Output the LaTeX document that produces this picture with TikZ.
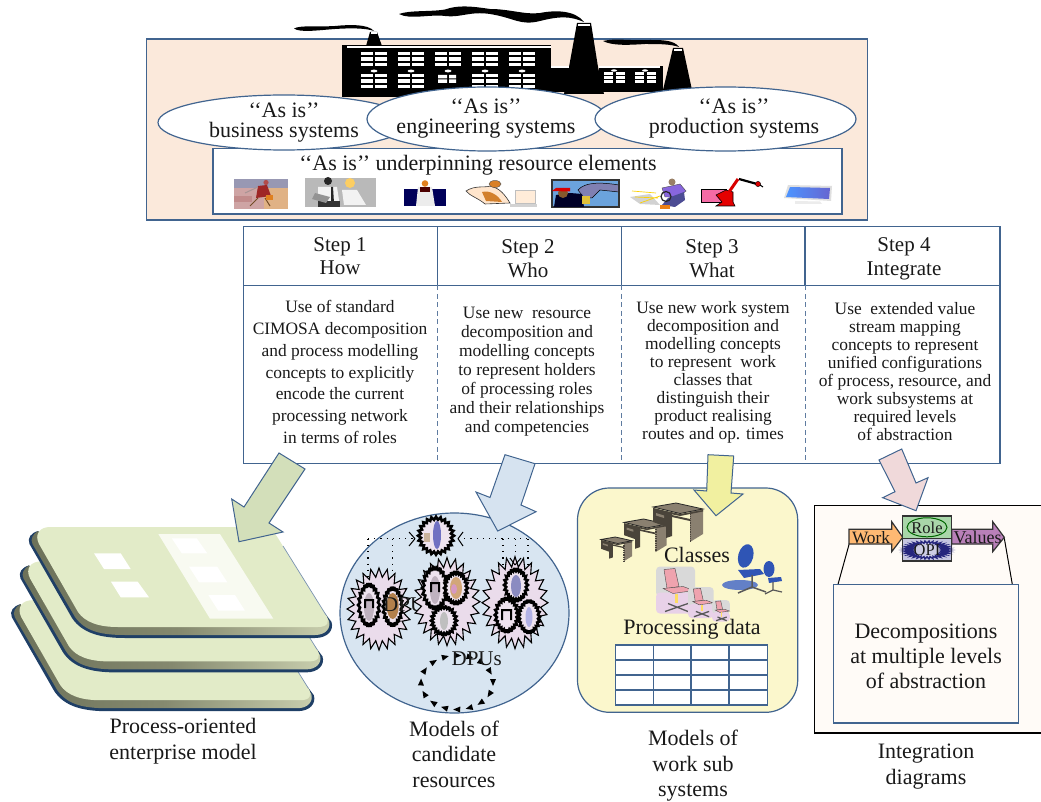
\documentclass[tikz,border=0pt]{standalone}
\usepackage{fontspec}
\setmainfont{Liberation Serif}
\usetikzlibrary{decorations.markings}
\definecolor{edgeblue}{HTML}{41648F}
\definecolor{peach}{HTML}{FBE9DB}
\definecolor{platetop}{HTML}{E2EBC8}
\definecolor{navyedge}{HTML}{1F3F66}
\definecolor{pinkburst}{HTML}{EADCEB}
\definecolor{bandmid}{HTML}{85896F}
\definecolor{bandleft}{HTML}{6C7159}
\definecolor{bandright}{HTML}{C9CFAE}
\definecolor{circblue}{HTML}{D8E5F1}
\definecolor{arrgreen}{HTML}{D3DFBA}
\definecolor{arrblue}{HTML}{D6E3F0}
\definecolor{arryellow}{HTML}{F1F0A0}
\definecolor{arrpink}{HTML}{F0D9DA}
\definecolor{boxyellow}{HTML}{FBF7CC}
\definecolor{boxcream}{HTML}{FFFBF7}
\definecolor{deskdark}{HTML}{4A443A}
\definecolor{deskmid}{HTML}{8A8070}
\definecolor{chairblue}{HTML}{2F55B5}
\definecolor{chairpink}{HTML}{EFA3AE}
\newcommand{\fs}[2]{\fontsize{#1}{#2}\selectfont}
\newcommand{\burst}[7][]{%
  \pgfmathtruncatemacro{\bsamp}{2*#6+1}\pgfmathtruncatemacro{\bdom}{2*#6}%
  \draw[#1] plot[samples=\bsamp,domain=0:\bdom] ({#2+#4*(#7+(1-#7)*(1+cos(180*\x))/2)*cos(180*\x/#6)},{#3+#5*(#7+(1-#7)*(1+cos(180*\x))/2)*sin(180*\x/#6)}) -- cycle;}
\newcommand{\plate}[2]{%
 \begin{scope}[shift={(#1,#2)}]
  \fill[navyedge] (38,531) .. controls (31,533) and (27,538) .. (29.5,544) -- (72,618) .. controls (82,633) and (100,638) .. (125,638) -- (315,638) .. controls (328,638) and (334,630) .. (331.5,622) -- (324,612) -- (60,560) -- cycle;
  \shade[left color=bandleft,right color=bandright,middle color=bandmid] (38,531) .. controls (33,534) and (30,539) .. (32.5,544) -- (75,617) .. controls (85,631) and (100,635) .. (125,635) -- (315,635) .. controls (326,635) and (331,628) .. (329,621) -- (324,612) -- (60,560) -- cycle;
  \fill[platetop] (50,527) -- (271,527) -- (326,615) .. controls (330,622) and (328,627) .. (318,627) -- (118,627) .. controls (98,627) and (85,622) .. (78,612) -- (39,544) .. controls (34,534) and (40,527) .. (50,527) -- cycle;
  \draw[edgeblue!70,line width=.7pt] (283,546) -- (326,615);
 \end{scope}}
\newcommand{\deskicon}[3]{%
 \begin{scope}[shift={(#1,#2)},scale=#3]
  \fill[deskdark] (0,5) -- (14,9) -- (14,24) -- (0,19) -- cycle;
  \fill[deskmid] (3,10) -- (11,12.5) -- (11,15) -- (3,12.5) -- cycle;
  \fill[deskdark] (13,9) -- (19,9) -- (19,33) -- (13,35) -- cycle;
  \fill[deskmid] (37,9) -- (50,6) -- (50,31) -- (37,39) -- cycle;
  \draw[deskdark,line width=1.6pt,dash pattern=on .9pt off .9pt] (37.5,9.5) -- (37.5,39);
  \fill[deskdark] (19,12) -- (37,16) -- (37,18) -- (19,14) -- cycle;
  \draw[black!85,line width=.8pt,fill=deskmid] (0,4) -- (23,0) -- (50,6) -- (27,10.5) -- cycle;
  \fill[deskdark] (0,5) -- (27,11) -- (50,7) -- (50,8.5) -- (27,13) -- (0,7.5) -- cycle;
 \end{scope}}
\newcommand{\pinkchair}[3]{%
 \begin{scope}[shift={(#1,#2)},scale=#3]
  \fill[gray!30,rounded corners=4pt] (0,0) rectangle (39,30);
  \fill[violet!18,rounded corners=4pt] (0,26) rectangle (39,47);
  \fill[chairpink,draw=gray!60!black,line width=.4pt] (8,3) -- (19,2) -- (23,20) -- (11,22) -- cycle;
  \fill[chairpink,draw=gray!60!black,line width=.4pt] (7,22) -- (27,20) -- (38,24) -- (17,27) -- cycle;
  \fill[yellow!60!orange!60] (19,27) rectangle (22,36);
  \draw[gray!70!black,line width=1.3pt] (9,45) -- (32,37) (12,37) -- (32,45);
 \end{scope}}
\tikzset{
 lbl/.style={inner sep=0pt,align=center,text=black!90},
 frm/.style={draw=edgeblue,line width=1.2pt},
 bigarrow/.style={draw=edgeblue,line width=1pt},
 pburst/.style={draw=black,line width=1.1pt,fill=pinkburst,line join=miter},
 sburst/.style={draw=black,line width=2.6pt,fill=pinkburst!80!white,line join=miter,miter limit=2},
 hdr/.style={lbl,font=\fs{21}{24}},
 body/.style={lbl,font=\fs{17.4}{19}},
 captxt/.style={lbl,font=\fs{22}{25.5}},
 elltxt/.style={lbl,font=\fs{22}{19.5}},
}
\begin{document}
\begin{tikzpicture}[x=1pt,y=-1pt]
\useasboundingbox (0,0) rectangle (1041,802);
% top frame
\draw[frm,fill=peach] (146.5,39) rectangle (867.5,220);
% smoke
\fill[black] (294,28.5) .. controls (300,25) and (320,27) .. (335,26) .. controls (350,24.5) and (368,24) .. (374,31) .. controls (366,28) and (350,28) .. (335,29) .. controls (320,30) and (300,33) .. (294,28.5) -- cycle;
\fill[black] (399,14) .. controls (410,10) and (430,12) .. (445,9.5) .. controls (458,5) and (470,6) .. (490,9) .. controls (510,9) and (525,15) .. (540,13) .. controls (555,10) and (575,10) .. (584,22) .. controls (570,16) and (560,16) .. (540,21) .. controls (520,26) and (515,18) .. (490,14) .. controls (470,11) and (460,18) .. (445,16) .. controls (430,14) and (410,20) .. (399,14) -- cycle;
\fill[black] (603,41) .. controls (615,38) and (630,41) .. (650,40) .. controls (662,40) and (674,40) .. (679,47) .. controls (670,44) and (660,44) .. (645,44) .. controls (630,45) and (612,46) .. (603,41) -- cycle;
% factory
\fill[black] (342,45) rectangle (551,97);
\fill[black] (551,66) rectangle (570,92);
\fill[black] (599,66) rectangle (663,92);
\fill[black] (370,32) -- (377,32) -- (382,46) -- (366,46) -- cycle;
\fill[white] (370.5,32.5) rectangle (376.5,34);
\fill[black] (577,23) -- (591,23) -- (598,67) -- (604,94) -- (564,94) -- (569,67) -- cycle;
\fill[white] (578,24) rectangle (590,26.5);
\fill[black] (673,48) -- (683,48) -- (692,90) -- (663,90) -- cycle;
\fill[white] (674,49) rectangle (682,51);
\fill[white] (347,46) rectangle (551,47.7);
\fill[white] (551,66.5) rectangle (569,68);
\fill[white] (599,66.5) rectangle (660,68);
\foreach \gx in {361,398,435,472,509}{
  \foreach \cx in {0,14}{
    \foreach \ry in {52,57.5,63}{\fill[white] (\gx+\cx,\ry) rectangle +(12,3.2);}
    \ifnum\gx=435\relax\else\foreach \ry in {74,79.5,85}{\fill[white] (\gx+\cx,\ry) rectangle +(12,3.4);}\fi
  }
  \fill[white] (\gx+13,71) ellipse (3.5 and 1.4);
}
\fill[white] (438,75) rectangle +(9,3.5) (449,75) rectangle +(7,3.5) (438,79.5) rectangle +(9,3.5) (449,79.5) rectangle +(7,3.5);
\foreach \gx in {604,635}{
  \foreach \cx in {0,12}{\foreach \ry in {72,76.2,80.5}{\fill[white] (\gx+\cx,\ry) rectangle +(8.5,3);}}
  \fill[white] (\gx+10,70.5) ellipse (3 and 1.2);
}
% inner box
\draw[frm,fill=white] (213,148.5) rectangle (842,214);
% ellipses
\draw[frm,fill=white] (284,122.5) ellipse (126 and 27.5);
\draw[frm,fill=white] (487,119) ellipse (120 and 32);
\draw[frm,fill=white] (725.5,119) ellipse (130.5 and 32);
\node[elltxt] (bus) at (284,122.5) {‘‘As is’’\\business systems};
\node[elltxt] (eng) at (486,118.5) {‘‘As is’’\\engineering systems};
\node[elltxt] (pro) at (734,118.5) {‘‘As is’’\\production systems};
\node[captxt] (und) at (478,165) {‘‘As is’’ underpinning resource elements};
% icon 1
\fill[blue!15!gray!70] (234,179) rectangle (288,188);
\fill[red!30!gray!55] (234,188) rectangle (264,209);
\fill[orange!60!gray!60] (264,188) rectangle (288,209);
\fill[red!30!gray!70] (234,196) rectangle (252,202);
\fill[red!55!black!85] (258,186) -- (267,185) -- (271,196) -- (256,198) -- cycle;
\fill[red!40!gray] (266,182.5) circle (2.6);
\draw[brown!60!black,line width=1pt] (258,198) -- (250,206) (265,198) -- (270,206);
\draw[gray!70!pink,line width=1pt] (258,187) -- (245,193);
\fill[orange!50!brown] (266,195) rectangle (273,200);
% icon 2
\fill[gray!55] (305,178) rectangle (376,207);
\fill[black!85] (328,181) circle (4);
\fill[white!90!gray] (318,187) -- (337,187) -- (340,207) -- (318,207) -- cycle;
\fill[black!85] (331,187) -- (333,187) -- (334,203) -- (331,203) -- cycle;
\fill[black!80] (318,201) rectangle (340,207);
\fill[yellow!40!orange!60] (350,183) circle (5);
\fill[white!90!gray] (342,190) -- (357,190) -- (366,205) -- (344,205) -- cycle;
\fill[gray!85] (315,193) -- (330,197) -- (326,203) -- (312,199) -- cycle;
% icon 3
\fill[blue!50!black!70!black] (404,189) rectangle (446,206);
\fill[white!85!gray] (418,187) -- (432,187) -- (435,206) -- (416,206) -- cycle;
\fill[orange!55!brown] (425,183.5) circle (3.3);
\fill[black!70!red] (420,187) rectangle (430,192);
% icon 4
\fill[orange!20!white,draw=black!80,line width=.6pt] (466,191) .. controls (475,185) and (485,188) .. (490,186) .. controls (500,188) and (505,195) .. (510,203) -- (485,204) .. controls (478,198) and (470,196) .. (466,191) -- cycle;
\fill[brown!70!orange] (482,192) .. controls (490,190) and (498,195) .. (502,202) -- (486,201) -- cycle;
\fill[brown!60!orange,draw=black!70,line width=.4pt] (495,184) ellipse (6 and 3.5);
\fill[orange!15!white,draw=gray!50,line width=.4pt] (515,190) rectangle (535,203);
\fill[gray!35] (510,204) rectangle (537,207);
% icon 5
\fill[cyan!60!blue!60] (552,180) rectangle (619,207);
\fill[blue!25!gray!80,draw=black,line width=.5pt] (578,190) .. controls (585,182) and (600,182) .. (619,185) -- (619,192) -- (600,190) -- (592,198) -- (584,198) -- cycle;
\draw[black!80,line width=1.4pt] (552,180) rectangle (619,207);
\fill[black!85!blue] (554,207) -- (556,195) -- (570,193) -- (582,194) -- (584,207) -- cycle;
\fill[brown!70!black] (563,193) circle (5);
\fill[red!85!black] (552,191) -- (556,188) -- (570,188) -- (570,191.5) -- cycle;
\fill[yellow!50!brown] (582,196) rectangle (590,204);
% icon 6
\fill[gray!35] (630,197) -- (650,194) -- (660,205) -- (640,204) -- cycle;
\draw[yellow!70!orange,line width=.7pt] (632,191) -- (656,193) (640,203) -- (660,196) (635,197) -- (658,198);
\fill[violet!45!blue!60,draw=black!70,line width=.4pt] (662,188) -- (680,184) -- (686,191) -- (678,197) -- (665,197) -- cycle;
\fill[gray!60!brown] (672,182) circle (3.5);
\fill[blue!40!black!70] (668,198) -- (684,192) -- (685,200) -- (675,207) -- (662,205) -- cycle;
\draw[black!85,line width=1.2pt] (666,196.5) circle (5);
\fill[orange!70!brown] (660,205) rectangle (670,209);
% icon 7
\draw[black,line width=1pt,fill=magenta!45!pink] (701,189.5) rectangle (726,203);
\fill[red!90!black,draw=black,line width=.6pt] (716,195) -- (726,190) -- (733,192) -- (733,202) -- (735,206) -- (716,206) -- (722,202) -- cycle;
\draw[red!85!black,line width=3pt] (729,192) -- (738,179);
\draw[black,line width=2.2pt] (739,179) -- (757,184);
\fill[red!85!black,draw=black,line width=.4pt] (758,184) circle (2.6);
\draw[black,line width=1pt] (760,185) -- (763,187);
% icon 8
\fill[gray!25] (788,185) -- (832,186) -- (831,201) -- (784,198) -- cycle;
\shade[left color=blue!60!cyan!70!white,right color=blue!70!black!60] (790,187) -- (830,188) -- (829,199) -- (786,197) -- cycle;
\fill[gray!15] (795,201) -- (820,201.5) -- (822,204) -- (795,204) -- cycle;
% table
\draw[frm] (243.5,226.5) rectangle (1000,463.7);
\draw[frm] (243.5,285.3) -- (1000,285.3);
\foreach \tx in {437.3,621.7,805}{
  \draw[frm] (\tx,226.5) -- (\tx,285.3);
  \draw[edgeblue!85!white,line width=1pt,dash pattern=on 5pt off 3.5pt] (\tx,285.3) -- (\tx,463.7);
}
\node[lbl,font=\fs{21}{23}] (s1) at (340,256.5) {Step 1\\How};
\node[hdr] (s2) at (528,259) {Step 2\\Who};
\node[hdr] (s3) at (712,259) {Step 3\\What};
\node[hdr] (s4) at (904,259) {Step 4\\Integrate};
\node[lbl,font=\fs{17.4}{21.7}] (b1) at (340,372) {Use of standard\\CIMOSA decomposition\\and process modelling\\concepts to explicitly\\encode the current\\processing network\\in terms of roles};
\node[body] (b2) at (527,372) {Use new~ resource\\decomposition and\\modelling concepts\\to represent holders\\of processing roles\\and their relationships\\and competencies};
\node[lbl,font=\fs{17.4}{18}] (b3) at (713,372) {Use new work system\\decomposition and\\modelling concepts\\to represent~ work\\classes that\\distinguish their\\product realising\\routes and op. times};
\node[lbl,font=\fs{17.4}{18}] (b4) at (905,372) {Use~ extended value\\stream mapping\\concepts to represent\\unified configurations\\of process, resource, and\\work subsystems at\\required levels\\of abstraction};
% plates
\plate{-17.7}{73.2}
\plate{-9}{34.4}
\plate{0}{0}
\fill[white] (94,553.3) -- (120.7,553.3) -- (130.7,569) -- (104,569) -- cycle;
\fill[white] (111,581.7) -- (137.7,581.7) -- (149,597.3) -- (120.7,597.3) -- cycle;
\fill[white!75!platetop] (158.3,534) -- (220,534) -- (273.3,618.7) -- (210,618.7) -- cycle;
\fill[white] (171.7,538.3) -- (196.7,538.3) -- (207.3,553.3) -- (181.7,553.3) -- cycle;
\fill[white] (189,566.7) -- (217.3,566.7) -- (227.3,582.3) -- (199,582.3) -- cycle;
\fill[white] (208.3,595) -- (235,595) -- (245,610.7) -- (218.3,610.7) -- cycle;
\node[captxt] (c1) at (183,741) {Process-oriented\\enterprise model};
% circle of resources
\draw[frm,fill=circblue] (454.5,613) ellipse (114.5 and 100);
\coordinate (d1) at (368,538.7); \coordinate (d2) at (415,538.7); \coordinate (d3) at (458,538.7); \coordinate (d4) at (528,538.7);
\draw[black,line width=1.2pt,dash pattern=on 1.2pt off 5pt] (d1) -- (d2) (d1) -- (368,590) (392.7,538.7) -- (392.7,585) (d3) -- (d4) (503,538.7) -- (503,565) (515.7,538.7) -- (515.7,565) (d4) -- (528,580);
\burst[pburst]{379}{609}{32}{41}{24}{.78}
\burst[pburst]{515}{602.7}{33}{46}{24}{.78}
\burst[sburst]{369}{605}{11}{22}{22}{.82}
\burst[sburst]{392.7}{606.7}{10}{20}{22}{.82}
\fill[violet!20!gray!50] (369,607) ellipse (5 and 14);
\fill[black] (364,599) rectangle (374,601) (364,599) rectangle (366,608) (372,599) rectangle (374,608);
\fill[orange!40!gray] (392.7,606) ellipse (6 and 13);
\node[lbl,font=\fs{21}{24},anchor=base west] (dpu1) at (383,611.5) {DPUs};
\burst[pburst]{447}{601.7}{33}{44}{24}{.78}
\burst[sburst]{436}{535.7}{18}{19}{24}{.84}
\fill[blue!40!gray!80] (437,535) ellipse (4 and 14);
\fill[orange!30!gray!60] (424,533) rectangle (430,542);
\draw[black,line width=1pt] (415,538.7) -- (409,532) (415,538.7) -- (409,546) (458,538.7) -- (463,532) (458,538.7) -- (463,546) (515,565) -- (510,558) (515,565) -- (521,558);
\burst[sburst]{435}{588}{13}{22}{22}{.82}
\fill[violet!20!gray!50] (435,590) ellipse (5 and 14);
\fill[black] (430,582) rectangle (440,584) (430,582) rectangle (432,592) (438,582) rectangle (440,592);
\burst[sburst]{456}{588}{12}{17}{22}{.82}
\fill[orange!50!gray!70] (456,588) ellipse (6 and 11);
\fill[blue!40!red!40] (454,589) ellipse (3 and 5);
\burst[sburst]{444}{620.7}{13}{15}{22}{.82}
\fill[gray!50] (444,621) ellipse (4 and 9);
\burst[sburst]{516}{585}{12}{17}{22}{.82}
\fill[blue!30!gray!70] (516,586) ellipse (5 and 11);
\burst[sburst]{506.7}{615}{12}{18}{22}{.82}
\fill[black] (501,609) rectangle (512,611) (501,609) rectangle (503,620) (510,609) rectangle (512,620);
\burst[sburst]{529}{616.7}{11}{17}{22}{.82}
\fill[gray!50!blue!40] (529,617) ellipse (3.5 and 10);
% ring of small arrowheads
\path[postaction={decorate},decoration={markings,mark=between positions 0 and 1 step 12.5pt with {\fill[black] (-3.5pt,-3pt) -- (3.5pt,0pt) -- (-3.5pt,3pt) -- cycle;}}] (457,682.5) ellipse (36 and 27);
\node[lbl,font=\fs{21}{24}] (dpu2) at (476.7,658.5) {DPUs};
\node[captxt] (c2) at (454,754) {Models of\\candidate\\resources};
% work systems
\draw[frm,fill=boxyellow,rounded corners=32pt] (577.5,488) rectangle (797.7,712.3);
\deskicon{601}{537}{.62}
\deskicon{624}{519}{.85}
\deskicon{653}{503}{1}
\pinkchair{656}{566.5}{1}
\pinkchair{688}{587}{.66}
\pinkchair{712}{600}{.46}
\fill[chairblue!75!white] (740,585) ellipse (18 and 5);
\fill[chairblue,rotate around={-15:(746,555)}] (746,556) ellipse (7.5 and 12);
\fill[chairblue] (738,570) -- (760,569) -- (764,574) -- (744,578) -- cycle;
\draw[gray!70!black,line width=1.5pt] (752,575) -- (752,587) (738,593) -- (752,587) -- (766,592);
\fill[chairblue] (769,569) ellipse (5.5 and 8);
\fill[chairblue] (768,578) -- (781,577) -- (782,581) -- (769,583) -- cycle;
\draw[gray!70!black,line width=1.2pt] (773,582) -- (773,590) (765,594) -- (773,590) -- (782,592);
\node[lbl,font=\fs{22}{25}] (cls) at (697,555) {Classes};
\node[lbl,font=\fs{22}{25}] (pdata) at (692,629) {Processing data};
\draw[frm,fill=white] (615.3,645) rectangle (767.3,705);
\draw[frm] (653.7,645) -- (653.7,705) (691,645) -- (691,705) (729,645) -- (729,705) (615.3,660) -- (767.3,660) (615.3,675) -- (767.3,675) (615.3,690) -- (767.3,690);
\node[captxt] (c3) at (693,766) {Models of\\work sub\\systems};
% integration
\fill[boxcream] (814.7,505.3) rectangle (1041,733);
\draw[black,line width=1.2pt] (1041,505.3) -- (814.7,505.3) -- (814.7,733) -- (1041,733);
\coordinate (wl) at (849.3,543.5); \coordinate (vl) at (1004.3,538.3);
\coordinate (bl) at (838,584.3); \coordinate (br) at (1012.3,584.3);
\draw[black,line width=1pt] (wl) -- (bl) (vl) -- (br);
\draw[frm,fill=boxcream] (833.7,584.3) rectangle (1018.3,723);
\node[lbl,font=\fs{22}{25}] (dec) at (926,656) {Decompositions\\at multiple levels\\of abstraction};
\draw[black!80,line width=1.2pt,fill=orange!55!white] (849,529.3) -- (891.7,529.3) -- (891.7,521.7) -- (902.7,537.3) -- (891.7,551.7) -- (891.7,544) -- (849,544) -- cycle;
\draw[black!80,line width=1.2pt,fill=violet!50!white!90!gray] (951.7,529.3) -- (992.7,529.3) -- (992.7,521.7) -- (1004.3,537.3) -- (992.7,551.7) -- (992.7,544) -- (951.7,544) -- cycle;
\draw[black!80,line width=1.2pt,fill=green!35!gray!50!white] (902.7,516) rectangle (951.7,538.3);
\draw[black!80,line width=1.2pt,fill=blue!30!gray!35!white] (902.7,538.3) rectangle (951.7,561);
\draw[green!40!black,line width=1pt] (927,527.3) ellipse (20 and 9.5);
\burst[draw=blue!40!black!85,line width=1.4pt,fill=blue!30!gray!30!white]{927}{550}{22}{9}{34}{.75}
\node[lbl,font=\fs{16.5}{18}] (role) at (927,527.5) {Role};
\node[lbl,font=\fs{16.5}{18}] (opi) at (927,550) {OPI};
\node[lbl,font=\fs{17.3}{18}] (wrk) at (871,537.5) {Work};
\node[lbl,font=\fs{18}{18}] (val) at (977.5,537.5) {Values};
\node[captxt] (c4) at (926,766.5) {Integration\\diagrams};
% block arrows
\draw[bigarrow,fill=arrgreen] (279,453) -- (305,469) -- (269,523) -- (283,532) -- (239,541.7) -- (231.7,499) -- (244,507) -- cycle;
\draw[bigarrow,fill=arrblue] (505,454.7) -- (535,463.7) -- (521,505) -- (536,511.7) -- (497.7,531) -- (476,492) -- (490,497.5) -- cycle;
\draw[bigarrow,fill=arryellow] (708,454.7) -- (733.7,456) -- (731,493) -- (743,494) -- (716,515.7) -- (694,490) -- (706.7,491) -- cycle;
\draw[bigarrow,fill=arrpink] (879,460) -- (901.7,449) -- (916,483) -- (928,477.7) -- (916,510.7) -- (882.7,497.7) -- (895,491.7) -- cycle;
\end{tikzpicture}
\end{document}
